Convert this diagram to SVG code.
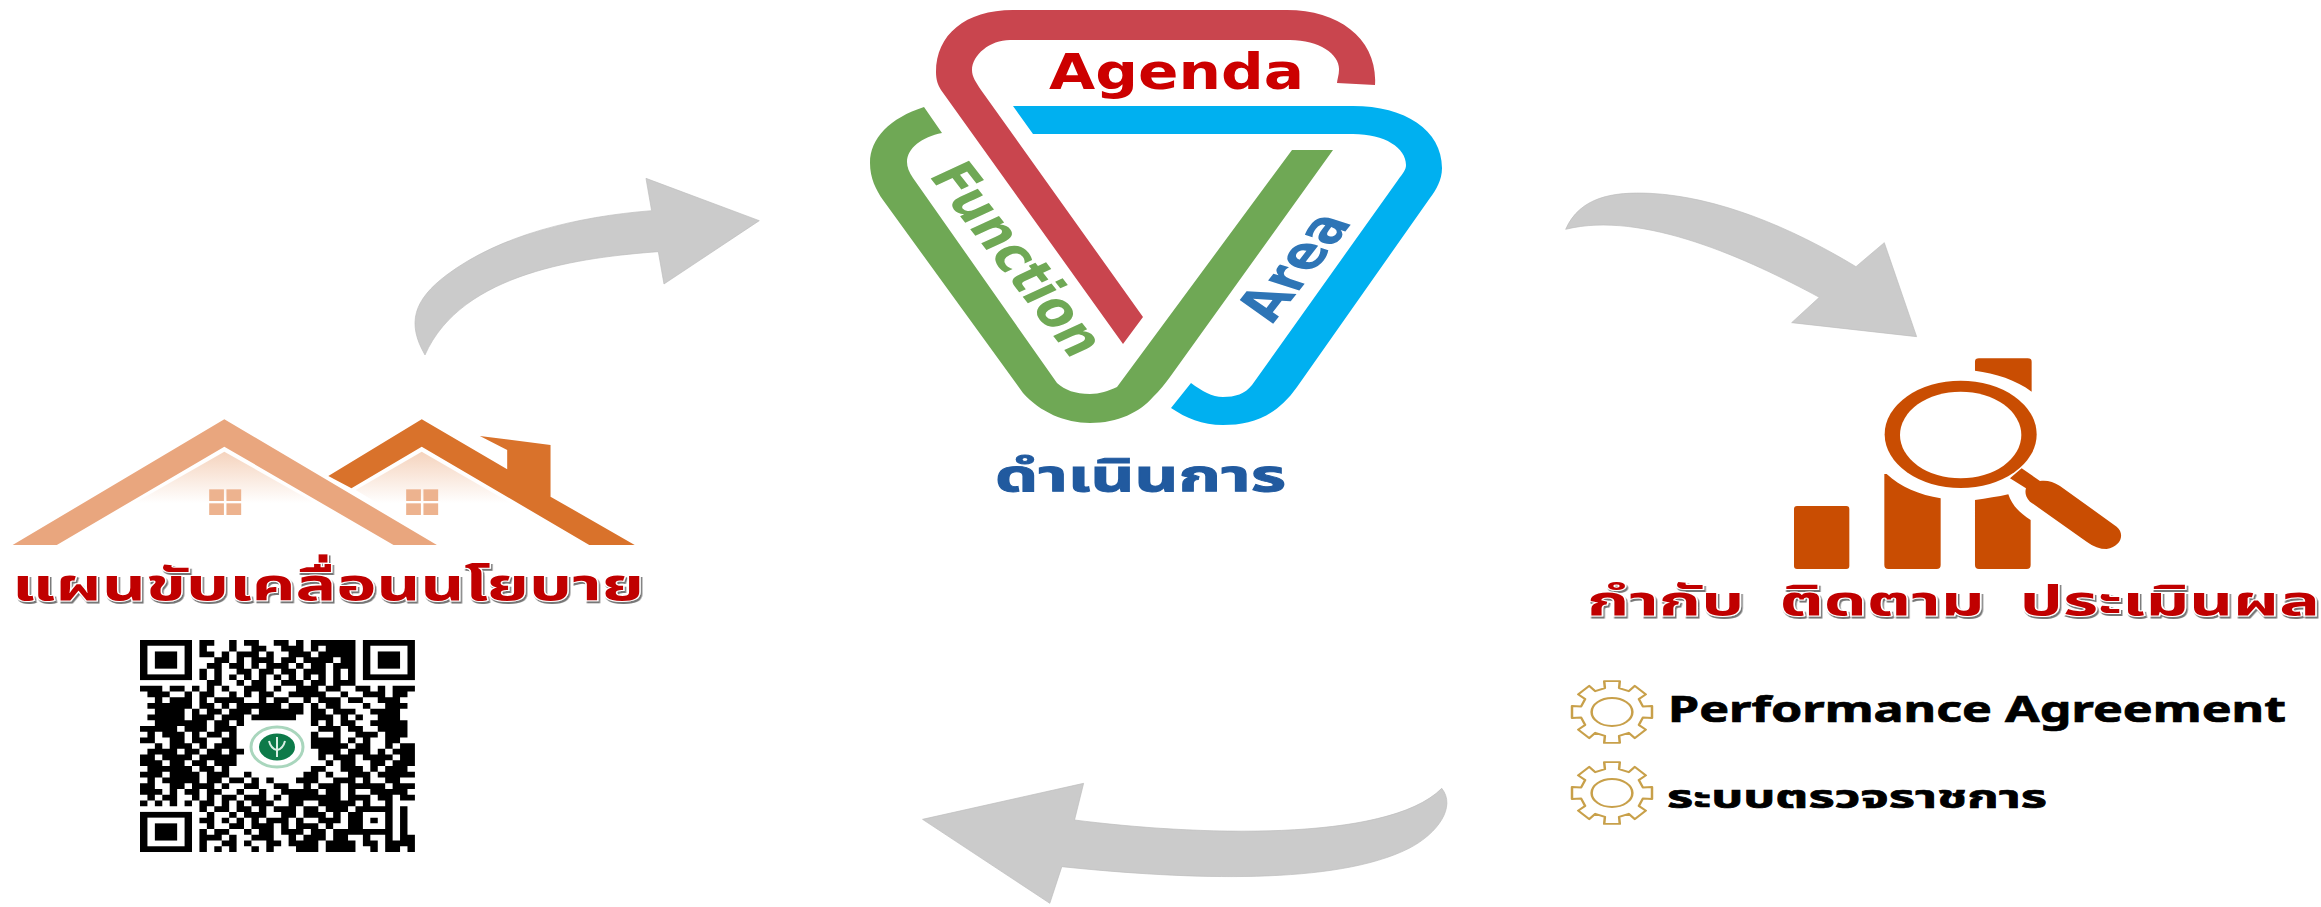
<svg xmlns="http://www.w3.org/2000/svg" width="2321" height="907" viewBox="0 0 2321 907">
<style>
text{font-family:"Noto Sans Thai","Noto Sans","DejaVu Sans",sans-serif;font-weight:700}
.en{font-family:"DejaVu Sans","Noto Sans",sans-serif}
.head{fill:#c00000;stroke:#fff;stroke-width:2;paint-order:stroke;filter:url(#sh);white-space:pre}
.sub{fill:#000;stroke:#000;stroke-width:.7}
.arrow{fill:#cbcbcb;stroke:#bdbdbd;stroke-width:2;stroke-linejoin:round}
.icon{fill:#c94d02}
.gear{fill:#fff;stroke:#c8a04a;stroke-width:5.5;stroke-linejoin:round}
.finder{fill:none;stroke:#000;stroke-width:1}
</style>
<defs>
<filter id="sh" x="-5%" y="-10%" width="110%" height="125%"><feDropShadow dx="1.5" dy="2" stdDeviation="0.6" flood-color="#777"/></filter>
<filter id="soft"><feGaussianBlur stdDeviation="0.6"/></filter>
<linearGradient id="gable" gradientUnits="userSpaceOnUse" x1="0" y1="155" x2="0" y2="310"><stop offset="0" stop-color="#f5d3bd"/><stop offset="1" stop-color="#fff"/></linearGradient>
<g id="finder"><rect class="finder" x="0.5" y="0.5" width="6" height="6"/><rect x="2" y="2" width="3" height="3"/></g>
<g id="gearShape">
<polygon class="gear" points="-15.7,-68.2 -17.2,-88.3 17.2,-88.3 15.7,-68.2 37.1,-59.4 50.3,-74.6 74.6,-50.3 59.4,-37.1 68.2,-15.7 88.3,-17.2 88.3,17.2 68.2,15.7 59.4,37.1 74.6,50.3 50.3,74.6 37.1,59.4 15.7,68.2 17.2,88.3 -17.2,88.3 -15.7,68.2 -37.1,59.4 -50.3,74.6 -74.6,50.3 -59.4,37.1 -68.2,15.7 -88.3,17.2 -88.3,-17.2 -68.2,-15.7 -59.4,-37.1 -74.6,-50.3 -50.3,-74.6 -37.1,-59.4"/>
<ellipse class="gear" cx="0" cy="0" rx="45" ry="40"/>
</g>
</defs>
<rect width="2321" height="907" fill="#fff"/>

<g id="connectors">
<path class="arrow" transform="translate(390,160) scale(.3333)" d="M105,585 C50,490 70,420 170,345 C330,225 560,170 785,152 L768,55 L1108,182 L822,372 L805,275 C580,292 215,335 105,585 Z"/>
<path class="arrow" transform="translate(1550,170) scale(.3333)" d="M47,178 C90,80 190,65 300,70 C500,80 720,170 918,290 L1003,218 L1100,500 L725,458 L808,382 C600,270 280,120 47,178 Z"/>
<path class="arrow" transform="translate(900,770) scale(.3636,.3333)" d="M1490,55 C1530,110 1480,190 1400,235 C1200,345 800,330 445,290 L412,400 L62,148 L505,40 L480,150 C800,195 1340,220 1490,55 Z"/>
</g>

<g id="node-operate">
<path fill="#6fa855" d="M924,107 C890,118 870,138 870,163 C870,178 876,190 883,200 L1023,393 C1040,412 1065,423 1090,423 C1118,423 1140,412 1153,397 C1160,390 1165,384 1170,377 L1333,150 L1292,150 L1117,387 C1108,391 1100,394 1090,394 C1075,394 1065,390 1057,383 L913,178 C909,172 907,167 907,162 C907,148 922,137 942,133 Z"/>
<path fill="#c9454e" d="M1375,85 C1378,40 1340,10 1287,10 L1013,10 C965,10 936,35 936,72 C936,80 938,85 941,90 L1123,344 L1143,317 L981,90 C976,82 972,77 972,70 C972,55 990,40 1010,40 L1290,40 C1320,40 1340,55 1339,70 C1339,75 1337,80 1337,83 Z"/>
<path fill="#00b0f0" d="M1013,106 L1353,106 C1405,106 1442,130 1442,168 C1442,180 1436,190 1430,198 L1297,387 C1275,418 1250,425 1223,425 C1202,425 1186,418 1171,408 L1191,383 C1202,391 1212,397 1223,397 C1235,397 1245,394 1252,385 L1398,180 C1403,173 1406,170 1406,165 C1406,148 1385,134 1353,134 L1033,134 Z"/>
<text class="en" transform="matrix(.614,.789,-1.095,.505,928,175)" font-size="48" fill="#6fa855" textLength="234" lengthAdjust="spacingAndGlyphs">Function</text>
<text class="en" transform="matrix(.616,-.788,1.19,.38,1273,324)" font-size="48" fill="#2e75b6" textLength="130" lengthAdjust="spacingAndGlyphs">Area</text>
<text class="en" x="1049" y="89" font-size="49" fill="#cc0000" textLength="255" lengthAdjust="spacingAndGlyphs">Agenda</text>
<text x="995" y="491" font-size="44" fill="#215a9f" stroke="#215a9f" stroke-width="1" textLength="291" lengthAdjust="spacingAndGlyphs">ดำเนินการ</text>
</g>

<g id="node-plan">
<g transform="translate(0,400) scale(.4209,.3333)">
<polygon fill="url(#gable)" points="533,155 925,435 145,435"/>
<polygon fill="url(#gable)" points="1002,155 1385,435 1060,435 845,270"/>
<polygon fill="#e9a67e" points="533,58 1038,435 935,435 533,140 135,435 30,435"/>
<polygon fill="#d9722b" points="1002,58 1205,208 1205,150 1140,108 1308,135 1308,290 1508,435 1400,435 1002,140 835,265 780,228"/>
<g fill="#edb38f">
<rect x="497" y="268" width="35" height="35"/><rect x="538" y="268" width="35" height="35"/><rect x="497" y="310" width="35" height="35"/><rect x="538" y="310" width="35" height="35"/>
<rect x="965" y="268" width="35" height="35"/><rect x="1006" y="268" width="35" height="35"/><rect x="965" y="310" width="35" height="35"/><rect x="1006" y="310" width="35" height="35"/>
</g>
</g>
<text class="head" x="12" y="600" font-size="44" textLength="632" lengthAdjust="spacingAndGlyphs">แผนขับเคลื่อนนโยบาย</text>
</g>

<g id="node-qr" filter="url(#soft)">
<g transform="translate(140,640) scale(7.43,5.73)">
<use href="#finder"/><use href="#finder" x="30"/><use href="#finder" y="30"/>
<path fill="none" stroke="#000" stroke-width="1" d="M8 .5h2M12 .5h1M14 .5h2M18 .5h2M21 .5h1M23 .5h3M26 .5h3
M8 1.5h1M12 1.5h1M15 1.5h2M19 1.5h3M23 1.5h1M25 1.5h4
M8 2.5h2M11 2.5h1M13 2.5h3M17 2.5h1M20 2.5h3M24 2.5h5
M10 3.5h2M13 3.5h1M15 3.5h3M19 3.5h2M22 3.5h4M27 3.5h2
M9 4.5h2M12 4.5h2M15 4.5h1M17 4.5h3M21 4.5h1M23 4.5h2M26 4.5h3
M8 5.5h1M10 5.5h1M13 5.5h2M16 5.5h2M19 5.5h2M22 5.5h3M26 5.5h1M28 5.5h1
M8 6.5h1M10 6.5h1M12 6.5h1M14 6.5h1M16 6.5h1M18 6.5h1M20 6.5h1M22 6.5h1M24 6.5h1M26 6.5h1M28 6.5h1
M9 7.5h2M13 7.5h1M15 7.5h2M19 7.5h3M23 7.5h2M26 7.5h3
M0 8.5h3M4 8.5h2M7 8.5h1M9 8.5h1M11 8.5h1M14 8.5h3M18 8.5h1M21 8.5h3M25 8.5h2M29 8.5h2M32 8.5h1M34 8.5h3
M1 9.5h3M6 9.5h1M8 9.5h2M12 9.5h1M14 9.5h1M16 9.5h2M20 9.5h5M27 9.5h1M30 9.5h3M34 9.5h2
M2 10.5h1M4 10.5h3M8 10.5h1M10 10.5h4M16 10.5h1M18 10.5h2M22 10.5h1M24 10.5h3M28 10.5h2M32 10.5h3
M1 11.5h6M8 11.5h2M11 11.5h1M13 11.5h6M20 11.5h2M23 11.5h1M25 11.5h2M30 11.5h1M33 11.5h3
M2 12.5h4M7 12.5h1M9 12.5h2M12 12.5h3M16 12.5h6M23 12.5h2M26 12.5h3M31 12.5h4
M1 13.5h5M7 13.5h3M11 13.5h3M15 13.5h6M23 13.5h3M27 13.5h1M29 13.5h1M32 13.5h3
M2 14.5h7M10 14.5h2M13 14.5h1M23 14.5h1M25 14.5h1M27 14.5h2M31 14.5h5
M0 15.5h5M6 15.5h3M10 15.5h3M24 15.5h3M28 15.5h2M32 15.5h4
M1 16.5h1M3 16.5h3M7 16.5h1M9 16.5h2M12 16.5h1M23 16.5h1M26 16.5h1M29 16.5h3M33 16.5h3
M0 17.5h2M4 17.5h2M7 17.5h2M11 17.5h2M23 17.5h4M28 17.5h1M30 17.5h1M33 17.5h2
M2 18.5h1M4 18.5h3M8 18.5h1M10 18.5h3M23 18.5h5M29 18.5h2M33 18.5h1M35 18.5h2
M1 19.5h4M6 19.5h2M9 19.5h2M12 19.5h2M24 19.5h3M28 19.5h3M32 19.5h1M34 19.5h3
M0 20.5h2M3 20.5h4M8 20.5h5M24 20.5h1M26 20.5h3M30 20.5h4M35 20.5h2
M0 21.5h3M4 21.5h2M7 21.5h2M10 21.5h3M25 21.5h1M27 21.5h2M31 21.5h2M34 21.5h3
M1 22.5h6M8 22.5h2M11 22.5h1M23 22.5h2M27 22.5h3M31 22.5h1M33 22.5h3
M0 23.5h3M4 23.5h4M9 23.5h3M14 23.5h1M22 23.5h2M25 23.5h1M28 23.5h3M32 23.5h5
M1 24.5h1M3 24.5h5M9 24.5h2M12 24.5h2M15 24.5h1M17 24.5h1M21 24.5h3M26 24.5h3M30 24.5h1M33 24.5h2
M0 25.5h2M4 25.5h2M7 25.5h3M11 25.5h1M14 25.5h2M18 25.5h2M22 25.5h1M24 25.5h3M28 25.5h5M34 25.5h3
M0 26.5h3M4 26.5h1M6 26.5h2M9 26.5h2M13 26.5h1M16 26.5h1M19 26.5h5M25 26.5h2M28 26.5h1M31 26.5h5
M1 27.5h1M3 27.5h2M7 27.5h1M9 27.5h1M11 27.5h2M14 27.5h3M18 27.5h1M20 27.5h7M28 27.5h3M32 27.5h2M35 27.5h2
M0 28.5h1M2 28.5h1M4 28.5h1M6 28.5h1M8 28.5h2M11 28.5h1M13 28.5h1M15 28.5h3M20 28.5h2M24 28.5h5M30 28.5h1M33 28.5h1
M8 29.5h1M10 29.5h2M13 29.5h2M16 29.5h1M18 29.5h3M22 29.5h2M25 29.5h3M29 29.5h5M35 29.5h1
M9 30.5h1M12 30.5h1M14 30.5h3M19 30.5h2M22 30.5h3M26 30.5h1M28 30.5h2M33 30.5h1M35 30.5h1
M8 31.5h2M11 31.5h1M13 31.5h1M15 31.5h1M17 31.5h3M21 31.5h1M24 31.5h3M28 31.5h2M31 31.5h1M33 31.5h1M35 31.5h1
M9 32.5h1M12 32.5h2M15 32.5h3M19 32.5h1M21 32.5h3M25 32.5h1M28 32.5h2M33 32.5h1M35 32.5h1
M8 33.5h1M10 33.5h2M14 33.5h1M16 33.5h2M19 33.5h3M23 33.5h2M26 33.5h3M29 33.5h5M35 33.5h1
M8 34.5h3M12 34.5h1M15 34.5h3M20 34.5h1M22 34.5h3M26 34.5h2M30 34.5h1M33 34.5h1M35 34.5h2
M8 35.5h1M11 35.5h2M14 35.5h1M17 35.5h2M20 35.5h4M25 35.5h4M30 35.5h2M33 35.5h4
M8 36.5h1M10 36.5h1M12 36.5h1M15 36.5h1M17 36.5h1M21 36.5h3M25 36.5h4M31 36.5h1M33 36.5h2M36 36.5h1"/>
</g>
<ellipse cx="277" cy="747" rx="26" ry="20" fill="#fff" stroke="#a9d6bd" stroke-width="3"/>
<ellipse cx="277" cy="747" rx="18" ry="13.5" fill="#0a7a4a"/>
<path d="M277,737 V757 M269,741 Q271,749 277,750 Q283,749 285,741" fill="none" stroke="#d9efe4" stroke-width="2"/>
</g>

<g id="node-monitor">
<g transform="translate(1840,350) scale(.3333)">
<rect class="icon" x="-138" y="468" width="166" height="189" rx="9"/>
<path class="icon" d="M133,372 L140,372 C180,410 240,435 302,445 V645 Q302,657 290,657 H145 Q133,657 133,645 Z"/>
<path class="icon" d="M405,450 C440,445 475,440 505,433 C515,465 540,490 572,510 V645 Q572,657 560,657 H417 Q405,657 405,645 Z"/>
<path class="icon" d="M405,62 C465,70 530,90 575,125 V35 Q575,25 563,25 H417 Q405,25 405,35 Z"/>
<ellipse class="icon" cx="362" cy="253" rx="228" ry="161"/>
<ellipse cx="362" cy="255" rx="182" ry="130" fill="#fff"/>
<path class="icon" d="M510,385 L545,355 L600,393 C620,390 640,395 660,408 L830,530 C855,550 845,590 800,597 C780,597 760,590 740,575 L570,455 C555,440 555,425 558,415 Z"/>
</g>
<text class="head" x="1587" y="615" font-size="40" textLength="733" lengthAdjust="spacingAndGlyphs">กำกับ  ติดตาม  ประเมินผล</text>
</g>

<g id="node-performance">
<g transform="translate(1612,712) scale(.453,.35)"><use href="#gearShape"/></g>
<text class="sub" style="font-family:'Noto Sans',sans-serif" x="1668" y="722" font-size="35" textLength="618" lengthAdjust="spacingAndGlyphs">Performance Agreement</text>
</g>
<g id="node-inspection">
<g transform="translate(1612,793) scale(.453,.35)"><use href="#gearShape"/></g>
<text class="sub" x="1667" y="808" font-size="32" textLength="380" lengthAdjust="spacingAndGlyphs">ระบบตรวจราชการ</text>
</g>
</svg>
